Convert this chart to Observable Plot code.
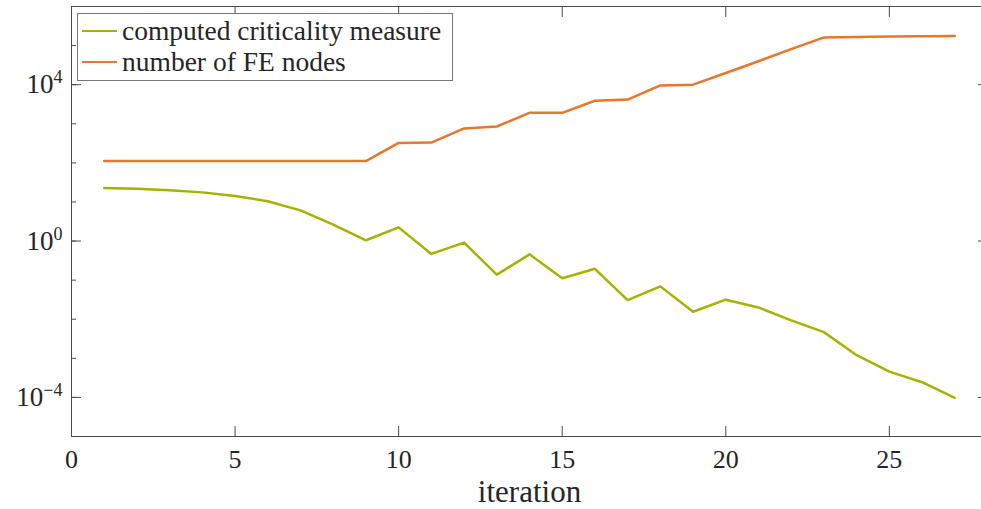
<!DOCTYPE html>
<html><head><meta charset="utf-8">
<script src="https://cdn.jsdelivr.net/npm/d3@7"></script>
<script src="https://cdn.jsdelivr.net/npm/@observablehq/plot@0.6"></script>
<style>
html,body{margin:0;padding:0;background:#fff;overflow:hidden;}
#wrap{position:relative;width:981px;height:509px;overflow:hidden;}
#legend{position:absolute;left:77px;top:13px;width:374px;height:66px;border:1px solid #777;background:#fff;font-family:'Liberation Serif',serif;font-size:27.5px;color:#262626;}
.row{position:absolute;left:0;height:30px;display:flex;align-items:center;white-space:nowrap;}
.sw{width:35px;height:2.5px;margin-left:4px;margin-right:5px;}
</style></head><body><div id="wrap"></div>
<script>
const iterations = [1,2,3,4,5,6,7,8,9,10,11,12,13,14,15,16,17,18,19,20,21,22,23,24,25,26,27];
const criticality = [22.65,21.88,19.82,17.58,14.13,10.47,6.10,2.63,1.047,2.239,0.468,0.912,0.138,0.457,0.112,0.195,0.0309,0.0692,0.0155,0.0316,0.0200,0.00933,0.00468,0.00120,0.000457,0.000245,0.0000977];
const feNodes = [111,111,111,111,111,111,111,111,111,324,331,759,851,1905,1905,3890,4169,9550,10000,19950,39800,81300,162000,166000,170000,174000,176000];
const seriesNames = ["computed criticality measure","number of FE nodes"];
const seriesColors = ["#A3B300","#E8772A"];
const xTicks = [0,5,10,15,20,25];
const xInnerTicks = [5,10,15,20,25];
const yMajor = [1e-4,1,1e4];
const yMinor = [1e-5,1e-4,1e-3,1e-2,1e-1,1,1e1,1e2,1e3,1e4,1e5,1e6];
const xLabel = "iteration";

const rows = [];
iterations.forEach((it,i)=>{
  rows.push({it, v: criticality[i], s: seriesNames[0]});
  rows.push({it, v: feNodes[i], s: seriesNames[1]});
});

const axisColor = "#4a4a4a";
const textColor = "#262626";
const serif = "'Liberation Serif', serif";

const chart = Plot.plot({
  width: 981, height: 509,
  marginLeft: 71, marginRight: -6, marginTop: 6, marginBottom: 73,
  style: {fontFamily: serif, fontSize: "26px", color: textColor, background: "#fff"},
  x: {type: "linear", domain: [0, 28], label: null},
  y: {type: "log", domain: [1e-5, 1e6], label: null},
  color: {domain: seriesNames, range: seriesColors},
  marks: [
    Plot.frame({stroke: axisColor, strokeWidth: 1}),
    Plot.axisX({anchor: "bottom", ticks: xInnerTicks, tickSize: 10, dy: -10, fill: "none", stroke: axisColor, label: null}),
    Plot.axisX({anchor: "top", ticks: xInnerTicks, tickSize: 10, dy: 10, fill: "none", stroke: axisColor, label: null}),
    Plot.axisY({anchor: "left", ticks: yMinor, tickSize: 5, dx: 5, fill: "none", stroke: axisColor, label: null}),
    Plot.axisY({anchor: "left", ticks: yMajor, tickSize: 10, dx: 10, fill: "none", stroke: axisColor, label: null}),
    Plot.axisY({anchor: "right", ticks: yMajor, tickSize: 10, dx: -10, fill: "none", stroke: axisColor, label: null}),
    Plot.axisX({anchor: "bottom", ticks: xTicks, tickSize: 0, tickPadding: 13, tickFormat: d => String(d), fill: textColor, fontSize: 26,
      label: xLabel, labelAnchor: "center", labelArrow: "none", labelOffset: 65}),
    Plot.axisY({anchor: "left", ticks: yMajor, tickSize: 0, tickPadding: 9, tickFormat: d => "10^" + Math.round(Math.log10(d)), fill: textColor, fontSize: 27, label: null}),
    Plot.line(rows, {x: "it", y: "v", z: "s", stroke: "s", strokeWidth: 2.5, strokeLinejoin: "round"})
  ]
});

d3.select(chart).selectAll('g[aria-label="y-axis tick label"] text').each(function(){
  const t = d3.select(this);
  const parts = t.text().split("^");
  if (parts.length !== 2) return;
  const e = parts[1].replace("-", "\u2212");
  t.text(null);
  t.append("tspan").text(parts[0]);
  t.append("tspan").attr("dy", "-10").attr("font-size", "18px").text(e);
});
d3.select(chart).selectAll('g[aria-label="x-axis label"] text').attr("font-size", "31px");

const wrap = document.getElementById("wrap");
wrap.appendChild(chart);

const legend = document.createElement("div");
legend.id = "legend";
seriesNames.forEach((name, i) => {
  const r = document.createElement("div");
  r.className = "row";
  r.style.top = (2 + 31 * i) + "px";
  const sw = document.createElement("span");
  sw.className = "sw";
  sw.style.background = seriesColors[i];
  const tx = document.createElement("span");
  tx.textContent = name;
  r.appendChild(sw); r.appendChild(tx);
  legend.appendChild(r);
});
wrap.appendChild(legend);
</script></body></html>
